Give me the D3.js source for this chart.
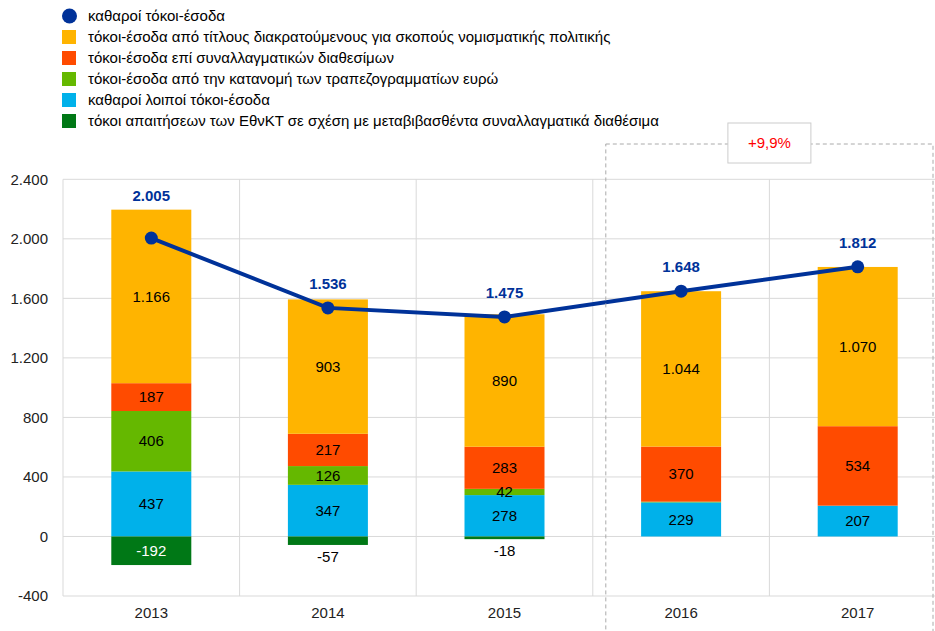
<!DOCTYPE html>
<html>
<head>
<meta charset="utf-8">
<script src="https://cdn.jsdelivr.net/npm/d3@7"></script>
<style>
  body { margin: 0; background: #fff; }
  svg { font-family: "Liberation Sans", Arial, sans-serif; }
</style>
</head>
<body>
<svg width="935" height="631"></svg>
<script>
var years = ["2013", "2014", "2015", "2016", "2017"];
var seriesNames = [
  "καθαροί λοιποί τόκοι-έσοδα",
  "τόκοι-έσοδα από την κατανομή των τραπεζογραμματίων ευρώ",
  "τόκοι-έσοδα επί συναλλαγματικών διαθεσίμων",
  "τόκοι-έσοδα από τίτλους διακρατούμενους για σκοπούς νομισματικής πολιτικής",
  "τόκοι απαιτήσεων των ΕθνΚΤ σε σχέση με μεταβιβασθέντα συναλλαγματικά διαθέσιμα"
];
var otherNet = [437, 347, 278, 229, 207];
var banknotes = [406, 126, 42, 5, 0];
var fxReserves = [187, 217, 283, 370, 534];
var securities = [1166, 903, 890, 1044, 1070];
var ncbClaims = [-192, -57, -18, 0, 0];
var netIncome = [2005, 1536, 1475, 1648, 1812];
var lineName = "καθαροί τόκοι-έσοδα";
var yTicks = [-400, 0, 400, 800, 1200, 1600, 2000, 2400];
var changeLabel = "+9,9%";

var colors = ["#00b1ea", "#65b800", "#ff4b00", "#ffb400", "#007816"];
var lineColor = "#003299";
var fs = 15;

var svg = d3.select("svg");
var plotLeft = 63, plotRight = 946, plotTop = 179.3, plotBottom = 596;

var x = d3.scaleBand().domain(years).range([plotLeft, plotRight]);
var y = d3.scaleLinear().domain([-400, 2400]).range([plotBottom, plotTop]);
var fmt = d3.formatLocale({ decimal: ",", thousands: ".", grouping: [3], currency: ["", "€"], minus: "-" }).format(",d");

var rows = years.map(function(yr, i) {
  return { year: yr, s0: otherNet[i], s1: banknotes[i], s2: fxReserves[i], s3: securities[i], s4: ncbClaims[i] };
});
var keys = ["s0", "s1", "s2", "s3", "s4"];
var stacked = d3.stack().keys(keys).offset(d3.stackOffsetDiverging)(rows);

// grid
var grid = svg.append("g");
grid.selectAll("line.h").data(yTicks).join("line")
  .attr("x1", plotLeft).attr("x2", 935)
  .attr("y1", function(d) { return y(d); }).attr("y2", function(d) { return y(d); })
  .attr("stroke", "#d9d9d9").attr("stroke-width", 1);
grid.selectAll("line.v").data(years).join("line")
  .attr("x1", function(d) { return x(d); }).attr("x2", function(d) { return x(d); })
  .attr("y1", plotTop).attr("y2", plotBottom)
  .attr("stroke", "#d9d9d9").attr("stroke-width", 1);

// y axis
var yAxis = svg.append("g").attr("transform", "translate(" + plotLeft + ",0)")
  .call(d3.axisLeft(y).tickValues(yTicks).tickFormat(fmt).tickSize(0).tickPadding(15));
yAxis.select(".domain").remove();
yAxis.selectAll("text").attr("font-size", fs).attr("fill", "#222").attr("font-family", "Liberation Sans, Arial, sans-serif");

// x axis
var xAxis = svg.append("g").attr("transform", "translate(0," + plotBottom + ")")
  .call(d3.axisBottom(x).tickSize(0).tickPadding(11));
xAxis.select(".domain").remove();
xAxis.selectAll("text").attr("font-size", fs).attr("fill", "#222").attr("font-family", "Liberation Sans, Arial, sans-serif");

// bars
var bw = 80;
var layers = svg.append("g").selectAll("g").data(stacked).join("g")
  .attr("fill", function(d, i) { return colors[i]; });
layers.selectAll("rect").data(function(d) { return d; }).join("rect")
  .attr("x", function(d) { return x(d.data.year) + x.bandwidth() / 2 - bw / 2; })
  .attr("width", bw)
  .attr("y", function(d) { return y(Math.max(d[0], d[1])); })
  .attr("height", function(d) { return Math.abs(y(d[0]) - y(d[1])); });

// bar labels
stacked.forEach(function(layer, li) {
  layer.forEach(function(d) {
    var v = d.data[keys[li]];
    if (Math.abs(v) < 10) return;
    var cx = x(d.data.year) + x.bandwidth() / 2;
    var hpx = Math.abs(y(d[0]) - y(d[1]));
    var cy, fill = "#000";
    if (v < 0 && hpx < 20) {
      cy = y(Math.min(d[0], d[1])) + 12;
    } else {
      cy = (y(d[0]) + y(d[1])) / 2;
      if (v < 0) fill = "#fff";
    }
    svg.append("text").attr("x", cx).attr("y", cy).attr("dy", "0.35em")
      .attr("text-anchor", "middle").attr("font-size", fs).attr("fill", fill)
      .text(fmt(v));
  });
});

// line
var line = d3.line()
  .x(function(d, i) { return x(years[i]) + x.bandwidth() / 2; })
  .y(function(d) { return y(d); });
svg.append("path").datum(netIncome).attr("d", line)
  .attr("fill", "none").attr("stroke", lineColor).attr("stroke-width", 4);
svg.append("g").selectAll("circle").data(netIncome).join("circle")
  .attr("cx", function(d, i) { return x(years[i]) + x.bandwidth() / 2; })
  .attr("cy", function(d) { return y(d); })
  .attr("r", 6.5).attr("fill", lineColor);
svg.append("g").selectAll("text").data(netIncome).join("text")
  .attr("x", function(d, i) { return x(years[i]) + x.bandwidth() / 2; })
  .attr("y", function(d, i) {
    var barTop = d3.sum([otherNet[i], banknotes[i], fxReserves[i], securities[i]]);
    return Math.min(y(d) - 24, y(barTop) - 14);
  })
  .attr("dy", "0.35em")
  .attr("text-anchor", "middle").attr("font-size", fs).attr("font-weight", "bold")
  .attr("fill", lineColor).text(function(d) { return fmt(d); });

// highlight box for 2016-2017
var bx0 = x("2016") + 13, bx1 = 933;
svg.append("rect").attr("x", bx0).attr("y", 144).attr("width", bx1 - bx0).attr("height", 500)
  .attr("fill", "none").attr("stroke", "#aaa").attr("stroke-dasharray", "4,3");
var lx = (x("2016") + x("2017") + x.bandwidth()) / 2;
svg.append("rect").attr("x", lx - 41.5).attr("y", 123).attr("width", 83).attr("height", 40)
  .attr("fill", "#fff").attr("stroke", "#ccc");
svg.append("text").attr("x", lx).attr("y", 143).attr("dy", "0.35em")
  .attr("text-anchor", "middle").attr("font-size", fs).attr("fill", "#ff0000")
  .text(changeLabel);

// legend
var legendItems = [{ name: lineName, color: lineColor, dot: true }];
[3, 2, 1, 0, 4].forEach(function(i) { legendItems.push({ name: seriesNames[i], color: colors[i], dot: false }); });
var lg = svg.append("g").selectAll("g").data(legendItems).join("g")
  .attr("transform", function(d, i) { return "translate(62," + (16 + i * 21) + ")"; });
lg.filter(function(d) { return d.dot; }).append("circle")
  .attr("cx", 7.5).attr("cy", 0).attr("r", 7.5).attr("fill", function(d) { return d.color; });
lg.filter(function(d) { return !d.dot; }).append("rect")
  .attr("x", 0).attr("y", -7).attr("width", 14).attr("height", 14).attr("fill", function(d) { return d.color; });
lg.append("text").attr("x", 26).attr("y", 0).attr("dy", "0.35em")
  .attr("font-size", fs).attr("fill", "#000").text(function(d) { return d.name; });
</script>
</body>
</html>
